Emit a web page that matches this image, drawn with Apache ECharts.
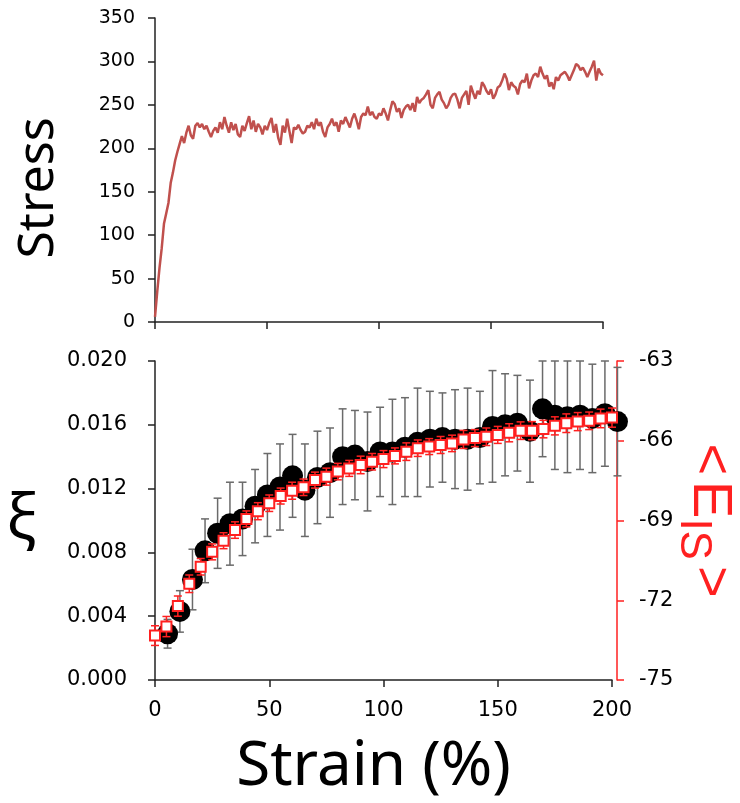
<!DOCTYPE html>
<html>
<head>
<meta charset="utf-8">
<script src="https://cdn.jsdelivr.net/npm/echarts@6/dist/echarts.min.js"></script>
<style>
    html, body { margin: 0; padding: 0; background: #fff; }
    #chart { width: 740px; height: 803px; }
</style>
</head>
<body>
<div id="chart"></div>
<script>
// stress vs strain, one sample per 1 % strain (0..200)
var stressVal = [
    6, 35, 62, 85, 113, 125, 137, 160, 172, 186,
    196, 205, 214, 206, 218, 226, 215, 211, 226, 229,
    224, 228, 222, 226, 219, 213, 220, 224, 218, 230,
    222, 236, 226, 218, 230, 221, 228, 216, 213, 226,
    220, 229, 237, 222, 232, 219, 228, 224, 216, 226,
    221, 229, 235, 218, 228, 212, 204, 226, 218, 234,
    220, 206, 224, 222, 227, 221, 217, 219, 226, 224,
    230, 222, 234, 226, 230, 219, 213, 224, 228, 234,
    226, 230, 219, 232, 228, 236, 230, 224, 234, 240,
    232, 222, 236, 240, 238, 248, 238, 242, 236, 234,
    240, 238, 246, 240, 232, 244, 254, 251, 242, 246,
    235, 244, 248, 250, 244, 252, 242, 259, 252, 256,
    258, 262, 267, 250, 246, 258, 262, 265, 256, 252,
    246, 250, 258, 262, 263, 256, 246, 258, 262, 266,
    250, 272, 264, 257, 266, 262, 276, 272, 266, 262,
    268, 257, 262, 270, 272, 278, 286, 280, 267, 276,
    272, 270, 262, 274, 278, 276, 286, 269, 278, 284,
    286, 282, 294, 286, 280, 284, 271, 276, 268, 282,
    278, 284, 286, 288, 284, 278, 284, 290, 297, 295,
    290, 293, 288, 282, 288, 294, 301, 278, 292, 286,
    284
];

// xi (black circles, gray error bars)
var xiStrain = [5.5, 10.9, 16.4, 21.9, 27.4, 32.8, 38.3, 43.8, 49.2, 54.7,
    60.2, 65.6, 71.1, 76.6, 82.1, 87.5, 93.0, 98.5, 103.9, 109.4,
    114.9, 120.3, 125.8, 131.3, 136.8, 142.2, 147.7, 153.2, 158.6, 164.1,
    169.6, 175.0, 180.5, 186.0, 191.4, 196.9, 202.4];
var xiVal = [0.0029, 0.0043, 0.0063, 0.0081, 0.0092, 0.0098, 0.0101, 0.0109, 0.0116, 0.0121,
    0.0128, 0.0119, 0.0127, 0.0130, 0.0140, 0.0141, 0.0137, 0.0143, 0.0143, 0.0146,
    0.0149, 0.0151, 0.0152, 0.0151, 0.0151, 0.0152, 0.0159, 0.0160, 0.0161, 0.0156,
    0.0170, 0.0166, 0.0165, 0.0166, 0.0164, 0.0167, 0.0162];
var xiErr = [0.0009, 0.0013, 0.0019, 0.0020, 0.0022, 0.0026, 0.0023, 0.0023, 0.0026, 0.0027,
    0.0026, 0.0029, 0.0029, 0.0028, 0.0030, 0.0028, 0.0031, 0.0028, 0.0033, 0.0031,
    0.0034, 0.0030, 0.0028, 0.0031, 0.0032, 0.0029, 0.0035, 0.0032, 0.0030, 0.0032,
    0.0030, 0.0034, 0.0035, 0.0034, 0.0034, 0.0033, 0.0034];

// <E_IS> (red squares, right axis)
var eisStrain = [0, 5, 10, 15, 20, 25, 30, 35, 40, 45, 50, 55, 60, 65, 70, 75, 80, 85, 90, 95,
    100, 105, 110, 115, 120, 125, 130, 135, 140, 145, 150, 155, 160, 165, 170, 175, 180, 185, 190, 195, 200];
var eisVal = [-73.33, -72.99, -72.22, -71.38, -70.74, -70.18, -69.76, -69.36, -68.94, -68.65,
    -68.35, -68.08, -67.88, -67.75, -67.48, -67.35, -67.16, -67.04, -66.91, -66.79,
    -66.69, -66.57, -66.41, -66.28, -66.22, -66.16, -66.10, -65.95, -65.90, -65.85,
    -65.78, -65.70, -65.62, -65.62, -65.56, -65.44, -65.34, -65.28, -65.25, -65.16, -65.13];
var eisErr = [0.37, 0.38, 0.38, 0.33, 0.31, 0.30, 0.30, 0.31, 0.30, 0.32,
    0.31, 0.30, 0.32, 0.31, 0.30, 0.32, 0.31, 0.30, 0.33, 0.31,
    0.32, 0.30, 0.33, 0.31, 0.30, 0.32, 0.31, 0.34, 0.32, 0.33,
    0.32, 0.34, 0.33, 0.34, 0.33, 0.34, 0.35, 0.34, 0.33, 0.35, 0.36];

var stressData = stressVal.map(function (v, i) { return [i, v]; });
var xiData = xiStrain.map(function (x, i) { return [x, xiVal[i]]; });
var xiBars = xiStrain.map(function (x, i) { return [x, xiVal[i] - xiErr[i], xiVal[i] + xiErr[i]]; });
var eisData = eisStrain.map(function (x, i) { return [x, eisVal[i]]; });
var eisBars = eisStrain.map(function (x, i) { return [x, eisVal[i] - eisErr[i], eisVal[i] + eisErr[i]]; });

var tickFont = 'DejaVu Sans';
var nameFont = 'Noto Sans';
var axisColor = '#222';
var red = '#ff2020';

function errorBar(color, cap) {
    return function (params, api) {
        var x = api.value(0);
        var lo = api.coord([x, api.value(1)]);
        var hi = api.coord([x, api.value(2)]);
        var st = { stroke: color, lineWidth: 1.5 };
        return {
            type: 'group',
            children: [
                { type: 'line', shape: { x1: hi[0], y1: hi[1], x2: lo[0], y2: lo[1] }, style: st },
                { type: 'line', shape: { x1: hi[0] - cap, y1: hi[1], x2: hi[0] + cap, y2: hi[1] }, style: st },
                { type: 'line', shape: { x1: lo[0] - cap, y1: lo[1], x2: lo[0] + cap, y2: lo[1] }, style: st }
            ]
        };
    };
}

option = {
    animation: false,
    backgroundColor: '#fff',
    grid: [
        { left: 155, right: 137, top: 18, bottom: 481, outerBoundsMode: 'none' },
        { left: 155, right: 128, top: 361, bottom: 123, outerBoundsMode: 'none' }
    ],
    xAxis: [
        {
            type: 'value', gridIndex: 0, min: 0, max: 200, interval: 50,
            axisLine: { lineStyle: { color: axisColor, width: 1.5 } },
            axisTick: { show: true, length: 7, lineStyle: { color: axisColor, width: 1.5 } },
            axisLabel: { show: false },
            splitLine: { show: false }
        },
        {
            type: 'value', gridIndex: 1, min: 0, max: 200, interval: 50,
            name: 'Strain (%)', nameLocation: 'middle', nameGap: 56,
            nameTextStyle: { fontFamily: nameFont, fontSize: 62, color: '#000', padding: [0, 20, 0, 0] },
            axisLine: { lineStyle: { color: axisColor, width: 1.5 } },
            axisTick: { show: true, length: 7, lineStyle: { color: axisColor, width: 1.5 } },
            axisLabel: { margin: 20, fontFamily: tickFont, fontSize: 21, color: '#000' },
            splitLine: { show: false }
        }
    ],
    yAxis: [
        {
            type: 'value', gridIndex: 0, min: 0, max: 350, interval: 50,
            name: 'Stress', nameLocation: 'middle', nameGap: 91, nameRotate: 90,
            nameTextStyle: { fontFamily: nameFont, fontSize: 50, color: '#000', padding: [0, 36, 0, 0] },
            axisLine: { show: true, lineStyle: { color: axisColor, width: 1.5 } },
            axisTick: { show: true, length: 7, lineStyle: { color: axisColor, width: 1.5 } },
            axisLabel: { margin: 20, fontFamily: tickFont, fontSize: 19, color: '#000' },
            splitLine: { show: false }
        },
        {
            type: 'value', gridIndex: 1, min: 0, max: 0.02, interval: 0.004,
            name: 'ξ', nameLocation: 'middle', nameGap: 118, nameRotate: 0,
            nameTextStyle: { fontFamily: nameFont, fontSize: 62, color: '#000', padding: [10, 0, 0, 0] },
            axisLine: { show: true, lineStyle: { color: axisColor, width: 1.5 } },
            axisTick: { show: true, length: 7, lineStyle: { color: axisColor, width: 1.5 } },
            axisLabel: {
                margin: 28, fontFamily: tickFont, fontSize: 21, color: '#000',
                formatter: function (v) { return v.toFixed(3); }
            },
            splitLine: { show: false }
        },
        {
            type: 'value', gridIndex: 1, position: 'right', offset: 5,
            min: -75, max: -63, interval: 3,
            name: '{a|<}{e|E}{b|IS}{c|>}', nameLocation: 'middle', nameGap: 54, nameRotate: -90,
            nameMoveOverlap: false,
            nameTextStyle: {
                color: red,
                rich: {
                    a: { fontFamily: 'Liberation Sans', fontSize: 54, lineHeight: 66, color: red, verticalAlign: 'top', padding: [0, 6, 0, 0] },
                    e: { fontFamily: 'Liberation Sans', fontSize: 56, lineHeight: 66, color: red, verticalAlign: 'top' },
                    b: { fontFamily: 'Liberation Sans', fontSize: 44, lineHeight: 44, color: red, verticalAlign: 'top', padding: [22, 0, 0, 0] },
                    c: { fontFamily: 'Liberation Sans', fontSize: 54, lineHeight: 66, color: red, verticalAlign: 'top', padding: [0, 0, 0, 6] }
                }
            },
            axisLine: { show: true, lineStyle: { color: red, width: 1.5 } },
            axisTick: { show: true, length: 7, lineStyle: { color: red, width: 1.5 } },
            axisLabel: { margin: 22, fontFamily: tickFont, fontSize: 21, color: '#000' },
            splitLine: { show: false }
        }
    ],
    series: [
        {
            name: 'Stress', type: 'line', xAxisIndex: 0, yAxisIndex: 0,
            data: stressData, showSymbol: false,
            lineStyle: { color: '#c0504d', width: 2.5, opacity: 1 }
        },
        {
            name: 'xi err', type: 'custom', xAxisIndex: 1, yAxisIndex: 1,
            data: xiBars, renderItem: errorBar('#6a6a6a', 4), z: 1
        },
        {
            name: 'xi', type: 'scatter', xAxisIndex: 1, yAxisIndex: 1,
            data: xiData, symbol: 'circle', symbolSize: 21, clip: false,
            itemStyle: { color: '#000', opacity: 1 }, z: 2
        },
        {
            name: 'Eis err', type: 'custom', xAxisIndex: 1, yAxisIndex: 2,
            data: eisBars, renderItem: errorBar(red, 4), z: 3
        },
        {
            name: 'Eis', type: 'scatter', xAxisIndex: 1, yAxisIndex: 2,
            data: eisData, symbol: 'rect', symbolSize: 10, clip: false,
            itemStyle: { color: '#fff', borderColor: red, borderWidth: 2, opacity: 1 }, z: 4
        }
    ]
};

var myChart = echarts.init(document.getElementById('chart'));
myChart.setOption(option);
</script>
</body>
</html>
